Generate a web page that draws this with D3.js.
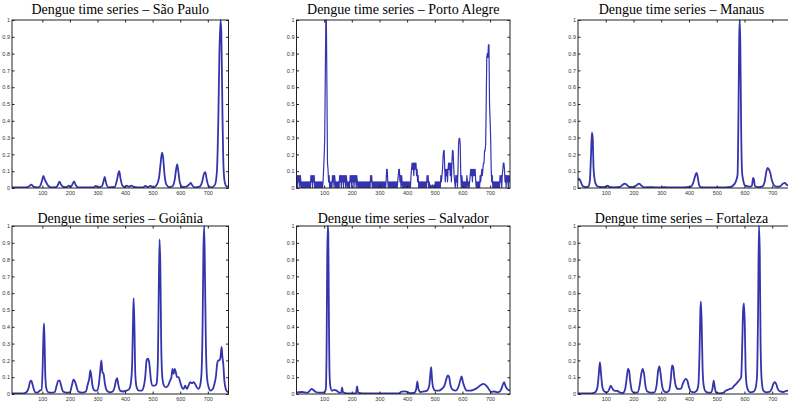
<!DOCTYPE html>
<html>
<head>
<meta charset="utf-8">
<script src="https://cdn.jsdelivr.net/npm/d3@7"></script>
<style>
  body { margin: 0; background: #fff; }
  svg { display: block; }
</style>
</head>
<body>
<script>
// CHART DATA (week index, normalised cases)
var cities = ["São Paulo", "Porto Alegre", "Manaus", "Goiânia", "Salvador", "Fortaleza"];
var xTicks = [100, 200, 300, 400, 500, 600, 700];
var yTicks = [0, 0.1, 0.2, 0.3, 0.4, 0.5, 0.6, 0.7, 0.8, 0.9, 1];

var saoPaulo = [[-10,0.003],[40,0.003],[52,0.01],[60,0.02],[68,0.008],[82,0.003],[92,0.012],[99,0.045],[104,0.072],[109,0.05],[115,0.03],[122,0.012],[132,0.004],[150,0.005],[157,0.02],[162,0.038],[168,0.02],[176,0.006],[188,0.005],[196,0.014],[203,0.006],[210,0.025],[215,0.04],[221,0.018],[230,0.004],[285,0.003],[294,0.012],[302,0.004],[316,0.01],[322,0.04],[326,0.066],[331,0.03],[340,0.004],[362,0.006],[371,0.05],[376,0.09],[379,0.1],[383,0.06],[390,0.015],[398,0.006],[406,0.014],[414,0.008],[424,0.014],[432,0.006],[445,0.004],[465,0.004],[474,0.012],[482,0.006],[492,0.012],[502,0.004],[515,0.02],[523,0.06],[529,0.15],[534,0.21],[538,0.18],[543,0.08],[550,0.02],[560,0.005],[572,0.01],[580,0.05],[585,0.11],[589,0.14],[593,0.1],[599,0.03],[608,0.006],[622,0.008],[633,0.022],[638,0.03],[644,0.015],[654,0.004],[670,0.008],[680,0.04],[686,0.085],[691,0.095],[695,0.06],[702,0.015],[714,0.004],[726,0.02],[733,0.1],[738,0.4],[742,0.8],[746,1.0],[749,0.93],[753,0.45],[757,0.12],[762,0.03],[768,0.01],[775,0.008]];

var portoAlegre = [[0,0.037],[2,0.074],[4,0],[6,0.074],[8,0.037],[10,0.074],[12,0],[14,0.074],[16,0.037],[18,0],[20,0.037],[22,0],[24,0.037],[26,0],[28,0.037],[30,0],[32,0.037],[34,0],[36,0.037],[38,0],[40,0.037],[42,0],[44,0.037],[46,0],[48,0.037],[50,0],[52,0.074],[54,0.037],[56,0.074],[58,0],[60,0.074],[62,0.037],[64,0.074],[66,0],[68,0.037],[70,0],[72,0.037],[74,0],[76,0.037],[78,0],[80,0.037],[82,0],[84,0.037],[86,0],[88,0.037],[90,0],[92,0.037],[94,0],[96,0.037],[98,0.111],[100,0.185],[102,0.296],[104,0.63],[106,1.0],[108,1.0],[110,0.6],[112,0.148],[114,0.111],[116,0.037],[118,0.074],[120,0],[122,0.037],[124,0],[126,0.037],[128,0],[130,0.074],[132,0.037],[134,0.074],[136,0],[138,0.074],[140,0.037],[142,0],[144,0.037],[146,0],[148,0.037],[150,0],[152,0.037],[154,0],[156,0.074],[158,0.037],[160,0.074],[162,0],[164,0.074],[166,0.037],[168,0.074],[170,0],[172,0.074],[174,0.037],[176,0.074],[178,0],[180,0.074],[182,0.037],[184,0],[186,0.037],[188,0],[190,0.037],[192,0],[194,0.074],[196,0.037],[198,0.074],[200,0],[202,0.074],[204,0.037],[206,0.074],[208,0],[210,0.074],[212,0.037],[214,0.074],[216,0],[218,0.074],[220,0.037],[222,0],[224,0.037],[226,0],[228,0.037],[230,0],[232,0.037],[234,0],[236,0.037],[238,0],[240,0.037],[242,0],[244,0.037],[246,0],[248,0.037],[250,0],[252,0.037],[254,0],[256,0.037],[258,0],[260,0.037],[262,0],[264,0.037],[266,0],[268,0.074],[270,0.037],[272,0.074],[274,0],[276,0.037],[278,0],[280,0.037],[282,0],[284,0.037],[286,0],[288,0.037],[290,0],[292,0.037],[294,0],[296,0.037],[298,0],[300,0.037],[302,0],[304,0.037],[306,0],[308,0.037],[310,0],[312,0.037],[314,0],[316,0.037],[318,0],[320,0.037],[322,0],[324,0.037],[326,0.111],[328,0.111],[330,0.037],[332,0],[334,0.037],[336,0],[338,0.037],[340,0],[342,0.037],[344,0],[346,0.037],[348,0],[350,0.037],[352,0],[354,0.037],[356,0],[358,0.037],[360,0],[362,0.037],[364,0],[366,0.037],[368,0.074],[370,0.111],[372,0.111],[374,0.037],[376,0.074],[378,0],[380,0.074],[382,0.037],[384,0],[386,0.037],[388,0],[390,0.037],[392,0],[394,0.037],[396,0],[398,0.037],[400,0],[402,0.037],[404,0],[406,0.037],[408,0],[410,0.037],[412,0],[414,0.074],[416,0.111],[418,0.148],[420,0.111],[422,0.148],[424,0.074],[426,0.148],[428,0.111],[430,0.148],[432,0.148],[434,0.074],[436,0.111],[438,0.037],[440,0.074],[442,0],[444,0.037],[446,0],[448,0.037],[450,0],[452,0.037],[454,0],[456,0.037],[458,0],[460,0.037],[462,0],[464,0.037],[466,0],[468,0.037],[470,0],[472,0.074],[474,0.037],[476,0.074],[478,0],[480,0.037],[482,0],[484,0],[486,0.018],[488,0],[490,0],[492,0.018],[494,0],[496,0],[498,0.018],[500,0],[502,0.037],[504,0],[506,0.037],[508,0],[510,0.037],[512,0],[514,0.037],[516,0],[518,0.037],[520,0],[522,0.074],[524,0.037],[526,0.074],[528,0.111],[530,0.185],[532,0.222],[534,0.222],[536,0.111],[538,0.037],[540,0.111],[542,0.074],[544,0.111],[546,0.037],[548,0.111],[550,0.148],[552,0.111],[554,0.148],[556,0.074],[558,0.148],[560,0.037],[562,0.148],[564,0.222],[566,0.222],[568,0.148],[570,0.074],[572,0.037],[574,0],[576,0.074],[578,0.037],[580,0.074],[582,0],[584,0.111],[586,0.259],[588,0.296],[590,0.296],[592,0.259],[594,0.074],[596,0],[598,0.074],[600,0.037],[602,0],[604,0.037],[606,0],[608,0.037],[610,0],[612,0.037],[614,0],[616,0.074],[618,0.037],[620,0],[622,0.037],[624,0],[626,0.037],[628,0.074],[630,0.111],[632,0.074],[634,0.111],[636,0.037],[638,0.111],[640,0.074],[642,0.111],[644,0.074],[646,0.111],[648,0.037],[650,0],[652,0.037],[654,0],[656,0.037],[658,0],[660,0.037],[662,0],[664,0.074],[666,0.037],[668,0.074],[670,0.111],[672,0.074],[674,0.111],[676,0.148],[678,0.148],[680,0.222],[682,0.222],[684,0.259],[686,0.5],[688,0.778],[690,0.8],[692,0.778],[694,0.852],[696,0.852],[698,0.5],[700,0.407],[702,0.3],[704,0.111],[706,0.037],[708,0.074],[710,0],[712,0.037],[714,0],[716,0.037],[718,0],[720,0.037],[722,0],[724,0.037],[726,0],[728,0.037],[730,0],[732,0.037],[734,0],[736,0.074],[738,0.037],[740,0.074],[742,0],[744,0.074],[746,0.111],[748,0.148],[750,0.148],[752,0.111],[754,0.037],[756,0.074],[758,0],[760,0.074],[762,0.037],[764,0.074],[766,0],[768,0.074],[770,0.037],[772,0.074]];

var manaus = [[0,0.045],[3,0.055],[8,0.045],[14,0.02],[20,0.008],[30,0.005],[38,0.01],[43,0.05],[47,0.2],[50,0.33],[53,0.3],[56,0.12],[60,0.05],[65,0.02],[72,0.008],[90,0.005],[100,0.008],[107,0.014],[113,0.006],[130,0.004],[150,0.006],[160,0.018],[168,0.026],[175,0.02],[185,0.006],[200,0.005],[212,0.018],[220,0.026],[228,0.015],[238,0.004],[270,0.005],[290,0.003],[310,0.005],[340,0.003],[380,0.003],[405,0.006],[415,0.03],[422,0.07],[427,0.09],[431,0.07],[436,0.02],[442,0.005],[470,0.003],[500,0.004],[530,0.003],[550,0.006],[562,0.02],[570,0.045],[575,0.08],[578,0.4],[581,0.9],[583,1.0],[585,0.85],[588,0.35],[591,0.1],[596,0.04],[602,0.015],[612,0.01],[620,0.008],[627,0.015],[631,0.06],[634,0.05],[638,0.01],[650,0.005],[665,0.01],[673,0.04],[679,0.1],[683,0.12],[688,0.11],[693,0.09],[698,0.05],[705,0.02],[715,0.008],[728,0.01],[738,0.025],[745,0.03],[752,0.02],[760,0.015],[770,0.01],[782,0.008]];

var goiania = [[-10,0.003],[30,0.003],[42,0.01],[50,0.035],[56,0.075],[60,0.08],[64,0.06],[68,0.035],[74,0.01],[82,0.008],[90,0.02],[97,0.025],[101,0.15],[104,0.35],[106,0.42],[108,0.32],[111,0.1],[115,0.03],[122,0.01],[135,0.008],[145,0.012],[152,0.05],[158,0.08],[163,0.08],[168,0.05],[175,0.015],[188,0.008],[200,0.01],[207,0.05],[213,0.085],[218,0.075],[223,0.05],[230,0.015],[245,0.008],[258,0.015],[265,0.06],[270,0.09],[274,0.14],[278,0.1],[283,0.04],[290,0.02],[298,0.02],[305,0.06],[310,0.14],[314,0.2],[318,0.13],[322,0.12],[327,0.06],[334,0.02],[345,0.01],[355,0.015],[362,0.04],[367,0.08],[371,0.095],[375,0.06],[382,0.02],[392,0.015],[405,0.02],[415,0.03],[422,0.08],[426,0.2],[429,0.45],[431,0.57],[434,0.4],[437,0.12],[442,0.04],[450,0.02],[460,0.02],[467,0.04],[473,0.1],[478,0.2],[482,0.21],[486,0.2],[490,0.15],[494,0.08],[500,0.05],[508,0.05],[514,0.06],[519,0.2],[522,0.6],[525,0.92],[528,0.75],[531,0.3],[535,0.1],[541,0.05],[548,0.04],[556,0.05],[563,0.08],[568,0.1],[572,0.15],[576,0.12],[580,0.15],[584,0.13],[588,0.1],[594,0.1],[600,0.07],[606,0.04],[612,0.03],[618,0.05],[624,0.03],[630,0.05],[636,0.07],[642,0.065],[648,0.07],[654,0.06],[660,0.04],[666,0.03],[672,0.05],[677,0.12],[681,0.4],[684,0.85],[687,1.0],[690,0.67],[693,0.3],[697,0.1],[703,0.04],[710,0.02],[718,0.03],[724,0.06],[729,0.1],[734,0.18],[738,0.2],[742,0.2],[746,0.22],[750,0.28],[753,0.22],[756,0.18],[760,0.08],[765,0.03],[770,0.015],[775,0.01]];

var salvador = [[0,0.01],[20,0.012],[40,0.008],[48,0.02],[55,0.03],[62,0.022],[70,0.012],[85,0.008],[100,0.01],[106,0.03],[109,0.3],[111,0.8],[113,1.0],[115,0.95],[117,0.5],[119,0.15],[122,0.05],[128,0.02],[136,0.025],[145,0.02],[155,0.008],[162,0.01],[165,0.04],[168,0.01],[180,0.004],[200,0.003],[215,0.005],[219,0.045],[223,0.008],[240,0.003],[300,0.003],[340,0.003],[370,0.004],[380,0.014],[392,0.016],[402,0.012],[410,0.005],[425,0.006],[433,0.03],[437,0.075],[441,0.03],[448,0.012],[460,0.015],[472,0.02],[480,0.05],[484,0.12],[487,0.16],[490,0.09],[494,0.04],[502,0.02],[515,0.02],[525,0.03],[535,0.05],[542,0.09],[547,0.11],[552,0.1],[557,0.05],[565,0.025],[575,0.02],[585,0.04],[592,0.08],[597,0.105],[602,0.07],[608,0.04],[616,0.02],[628,0.02],[640,0.025],[652,0.035],[664,0.05],[676,0.06],[686,0.05],[695,0.03],[704,0.012],[715,0.015],[726,0.01],[735,0.015],[742,0.035],[747,0.06],[751,0.07],[755,0.05],[762,0.03],[772,0.02]];

var fortaleza = [[0,0.003],[30,0.003],[50,0.004],[62,0.01],[70,0.04],[75,0.12],[79,0.19],[83,0.12],[88,0.04],[95,0.015],[105,0.01],[113,0.03],[118,0.05],[123,0.035],[130,0.02],[142,0.018],[152,0.008],[162,0.006],[170,0.03],[176,0.1],[180,0.15],[184,0.14],[188,0.08],[194,0.02],[202,0.008],[215,0.01],[222,0.05],[228,0.12],[233,0.15],[238,0.12],[243,0.05],[250,0.015],[262,0.008],[275,0.01],[283,0.05],[289,0.14],[293,0.165],[297,0.13],[302,0.06],[308,0.02],[318,0.01],[328,0.02],[334,0.08],[339,0.17],[343,0.16],[347,0.1],[352,0.05],[360,0.03],[370,0.03],[380,0.07],[388,0.09],[394,0.08],[400,0.04],[407,0.015],[418,0.01],[428,0.02],[434,0.06],[438,0.25],[441,0.5],[443,0.55],[446,0.4],[449,0.15],[453,0.05],[460,0.015],[470,0.008],[480,0.01],[485,0.035],[489,0.08],[492,0.05],[497,0.01],[510,0.004],[525,0.008],[532,0.02],[540,0.025],[548,0.03],[556,0.035],[563,0.05],[570,0.06],[580,0.08],[588,0.1],[592,0.3],[595,0.5],[598,0.54],[601,0.42],[604,0.15],[608,0.05],[614,0.02],[622,0.01],[630,0.012],[638,0.025],[645,0.1],[649,0.5],[652,1.0],[655,0.85],[658,0.3],[662,0.08],[668,0.02],[678,0.01],[690,0.012],[698,0.03],[704,0.06],[709,0.07],[714,0.06],[720,0.03],[728,0.015],[740,0.012],[750,0.018],[760,0.02],[770,0.015],[782,0.012]];

// LAYOUT
var W = 788, H = 407;
var colLeft = [12, 296.5, 578], colRight = [228.5, 510, 795];
var colDomain = [[-10, 775], [0, 772], [0, 782]];
var rowTop = [20, 226], rowBottom = [188, 394], titleY = [14, 223];
var lineColor = "#3434ae";

var panels = [
  {city: cities[0], data: saoPaulo,    col: 0, row: 0, curve: d3.curveMonotoneX, width: 1.8},
  {city: cities[1], data: portoAlegre, col: 1, row: 0, curve: d3.curveLinear,    width: 1.2},
  {city: cities[2], data: manaus,      col: 2, row: 0, curve: d3.curveMonotoneX, width: 1.8},
  {city: cities[3], data: goiania,     col: 0, row: 1, curve: d3.curveMonotoneX, width: 1.8},
  {city: cities[4], data: salvador,    col: 1, row: 1, curve: d3.curveMonotoneX, width: 1.8},
  {city: cities[5], data: fortaleza,   col: 2, row: 1, curve: d3.curveMonotoneX, width: 1.8}
];

var svg = d3.select("body").append("svg")
  .attr("width", W)
  .attr("height", H);

panels.forEach(function(p, i) {
  var x = d3.scaleLinear().domain(colDomain[p.col]).range([colLeft[p.col], colRight[p.col]]);
  var y = d3.scaleLinear().domain([0, 1]).range([rowBottom[p.row], rowTop[p.row]]);

  var g = svg.append("g");

  g.append("clipPath").attr("id", "clip" + i)
    .append("rect")
    .attr("x", x.range()[0]).attr("y", y.range()[1] - 1)
    .attr("width", x.range()[1] - x.range()[0])
    .attr("height", y.range()[0] - y.range()[1] + 1);

  // series
  var line = d3.line()
    .x(function(d) { return x(d[0]); })
    .y(function(d) { return y(d[1]); })
    .curve(p.curve);

  g.append("path")
    .datum(p.data)
    .attr("clip-path", "url(#clip" + i + ")")
    .attr("fill", "none")
    .attr("stroke", lineColor)
    .attr("stroke-width", p.width)
    .attr("stroke-linejoin", "round")
    .attr("d", line);

  // axes, ticks pointing inward (matlab style)
  var bottom = g.append("g").attr("transform", "translate(0," + y.range()[0] + ")")
    .call(d3.axisBottom(x).tickValues(xTicks).tickSize(-2.5).tickPadding(3));
  var left = g.append("g").attr("transform", "translate(" + x.range()[0] + ",0)")
    .call(d3.axisLeft(y).tickValues(yTicks).tickSize(-2.5).tickPadding(2).tickFormat(d3.format("~g")));
  var top = g.append("g").attr("transform", "translate(0," + y.range()[1] + ")")
    .call(d3.axisTop(x).tickValues(xTicks).tickSize(-2.5).tickFormat(""));
  var right = g.append("g").attr("transform", "translate(" + x.range()[1] + ",0)")
    .call(d3.axisRight(y).tickValues(yTicks).tickSize(-2.5).tickFormat(""));

  [bottom, left, top, right].forEach(function(a) {
    a.select(".domain").remove();
    a.selectAll(".tick line").attr("stroke", "#222");
    a.selectAll("text")
      .attr("fill", "#333")
      .style("font-family", "'Liberation Sans', Arial, sans-serif")
      .style("font-size", "5.5px");
  });

  g.append("rect")
    .attr("x", x.range()[0]).attr("y", y.range()[1])
    .attr("width", x.range()[1] - x.range()[0])
    .attr("height", y.range()[0] - y.range()[1])
    .attr("fill", "none")
    .attr("stroke", "#222")
    .attr("stroke-width", 1);

  // title
  g.append("text")
    .attr("x", (x.range()[0] + x.range()[1]) / 2 - (p.col == 2 ? 5 : 0))
    .attr("y", titleY[p.row])
    .attr("text-anchor", "middle")
    .style("font-family", "'Liberation Serif', 'Times New Roman', serif")
    .style("font-size", "14px")
    .attr("fill", "#000")
    .text("Dengue time series – " + p.city);
});
</script>
</body>
</html>
